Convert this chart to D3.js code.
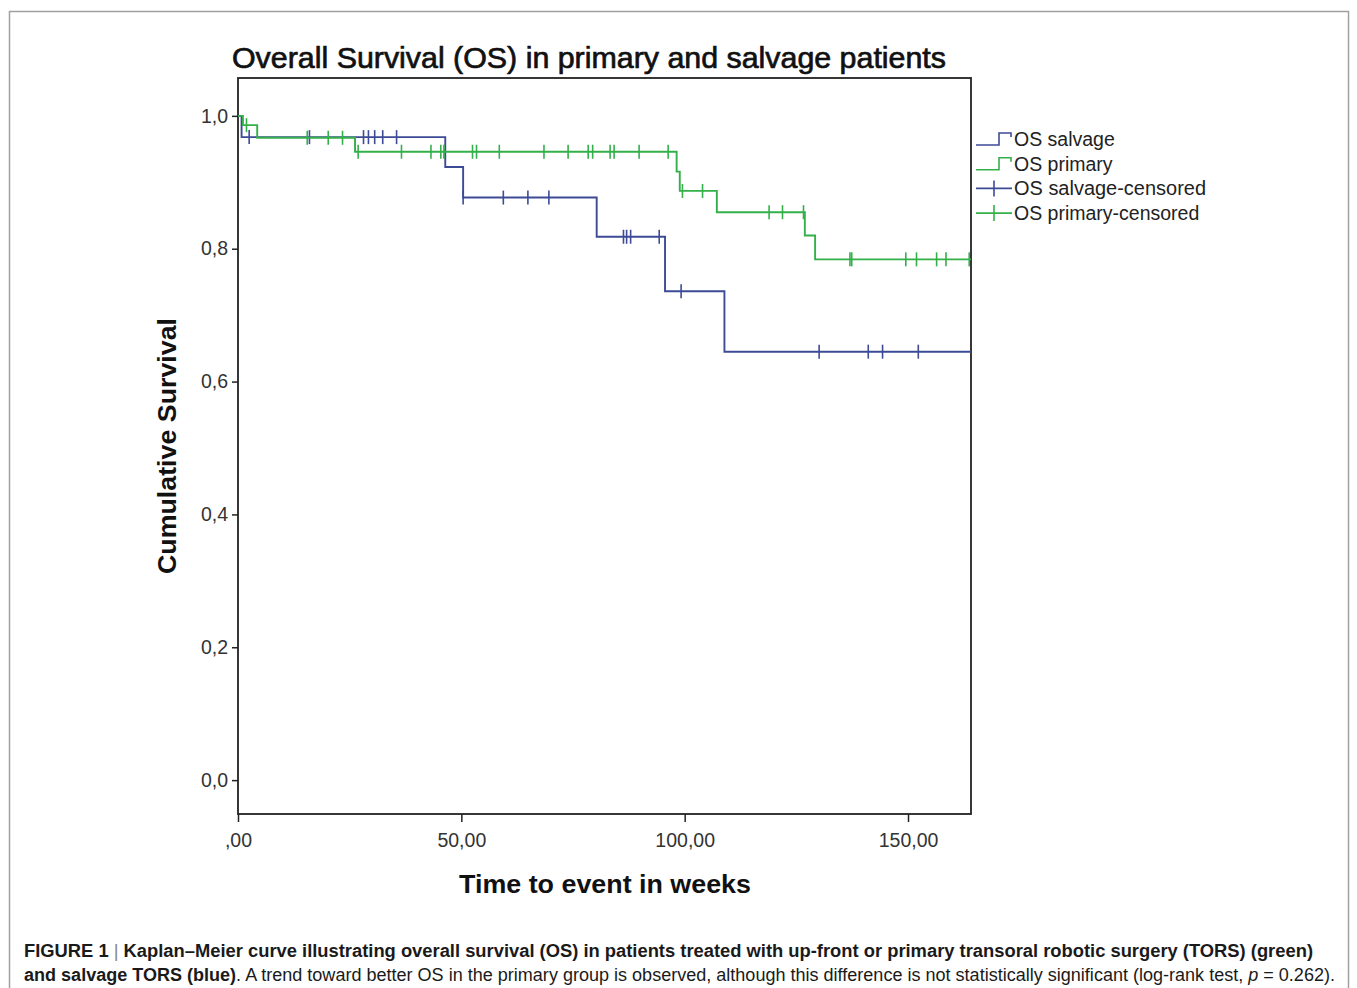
<!DOCTYPE html>
<html><head><meta charset="utf-8">
<script src="https://cdn.jsdelivr.net/npm/d3@7"></script>
<style>
html,body{margin:0;padding:0;background:#fff;}
svg{display:block;font-family:"Liberation Sans",Arial,sans-serif;}
</style></head>
<body>
<svg id="c" width="1357" height="988"></svg>
<script>
// ---- data ----
const salvageTimes = [0, 0.8, 46.4, 50.4, 80.3, 95.6, 108.9];
const salvageSurv  = [1.0, 0.968, 0.923, 0.877, 0.818, 0.736, 0.645];
const salvageCensor = [2.5, 16.0, 28.1, 29.2, 30.6, 32.4, 35.5, 50.4, 59.4, 64.9, 69.6, 86.3, 87.0, 87.9, 94.3, 99.2, 130.1, 141.1, 144.3, 152.3];

const primaryTimes = [0, 1.1, 4.3, 26.2, 98.2, 98.9, 107.2, 126.9, 129.2];
const primarySurv  = [1.0, 0.986, 0.967, 0.946, 0.916, 0.887, 0.855, 0.820, 0.784];
const primaryCensor = [1.9, 15.5, 20.2, 23.4, 26.9, 36.6, 43.2, 45.4, 46.1, 52.5, 53.4, 58.5, 68.5, 73.9, 78.4, 79.4, 83.3, 84.2, 89.8, 96.3, 99.5, 104.0, 118.9, 121.9, 126.6, 137.0, 137.4, 149.5, 151.9, 156.4, 158.5, 163.7];

const maxTime = 164.1;
const xTickValues = [0, 50, 100, 150];
const xTickLabels = [",00", "50,00", "100,00", "150,00"];
const yTickValues = [0, 0.2, 0.4, 0.6, 0.8, 1.0];
const yTickLabels = ["0,0", "0,2", "0,4", "0,6", "0,8", "1,0"];
const legendLabels = ["OS salvage", "OS primary", "OS salvage-censored", "OS primary-censored"];

const title = "Overall Survival (OS) in primary and salvage patients";
const xTitle = "Time to event in weeks";
const yTitle = "Cumulative Survival";

// ---- styling ----
const BLUE = "#3d4b96", GREEN = "#33b04a";
const svg = d3.select("#c");

// outer figure frame
svg.append("rect").attr("x", 9.5).attr("y", 11.5).attr("width", 1339).attr("height", 1000)
  .attr("fill", "none").attr("stroke", "#a0a0a0").attr("stroke-width", 1.5);

const L = 238, T = 78, R = 971, B = 814;
const x = d3.scaleLinear().domain([0, maxTime]).range([L, R]);
const y = d3.scaleLinear().domain([-0.051, 1.057]).range([B, T]);

// title
svg.append("text").attr("x", 232).attr("y", 68).attr("font-size", 30)
  .attr("textLength", 714).attr("lengthAdjust", "spacingAndGlyphs")
  .attr("fill", "#111").attr("stroke", "#111").attr("stroke-width", 0.7).text(title);

// axes
const yAxis = d3.axisLeft(y).tickValues(yTickValues).tickFormat((d, i) => yTickLabels[i]).tickSize(6).tickSizeOuter(0);
const gy = svg.append("g").attr("transform", `translate(${L},0)`).call(yAxis);
gy.select(".domain").remove();
gy.selectAll(".tick line").attr("stroke", "#222").attr("stroke-width", 1.5);
gy.selectAll(".tick text").attr("font-size", 19.5).attr("fill", "#333").attr("x", -10)
  .attr("font-family", "'Liberation Sans',Arial,sans-serif");

const xAxis = d3.axisBottom(x).tickValues(xTickValues).tickFormat((d, i) => xTickLabels[i]).tickSize(8).tickSizeOuter(0);
const gx = svg.append("g").attr("transform", `translate(0,${B})`).call(xAxis);
gx.select(".domain").remove();
gx.selectAll(".tick line").attr("stroke", "#222").attr("stroke-width", 1.5);
gx.selectAll(".tick text").attr("font-size", 19.5).attr("fill", "#333").attr("y", 19)
  .attr("font-family", "'Liberation Sans',Arial,sans-serif");

// plot box
svg.append("rect").attr("x", L).attr("y", T).attr("width", R - L).attr("height", B - T)
  .attr("fill", "none").attr("stroke", "#222").attr("stroke-width", 1.8);

// axis titles
svg.append("text").attr("x", 459).attr("y", 893)
  .attr("font-size", 26).attr("font-weight", "bold").attr("fill", "#111")
  .attr("textLength", 292).attr("lengthAdjust", "spacingAndGlyphs").text(xTitle);
svg.append("text").attr("transform", "translate(176,574) rotate(-90)")
  .attr("font-size", 26).attr("font-weight", "bold").attr("fill", "#111")
  .attr("textLength", 256).attr("lengthAdjust", "spacingAndGlyphs").text(yTitle);

// step curves
function stepPoints(times, surv) {
  const pts = times.map((t, i) => [t, surv[i]]);
  pts.push([maxTime, surv[surv.length - 1]]);
  return pts;
}
function survAt(times, surv, t) {
  let s = surv[0];
  for (let i = 0; i < times.length; i++) if (times[i] <= t) s = surv[i];
  return s;
}
const line = d3.line().x(d => x(d[0])).y(d => y(d[1])).curve(d3.curveStepAfter);
const series = [
  {times: salvageTimes, surv: salvageSurv, cens: salvageCensor, color: BLUE},
  {times: primaryTimes, surv: primarySurv, cens: primaryCensor, color: GREEN}
];
series.forEach(s => {
  svg.append("path").datum(stepPoints(s.times, s.surv)).attr("d", line)
    .attr("fill", "none").attr("stroke", s.color).attr("stroke-width", 1.9);
  svg.append("g").selectAll("line").data(s.cens).join("line")
    .attr("x1", d => x(d)).attr("x2", d => x(d))
    .attr("y1", d => y(survAt(s.times, s.surv, d)) - 7)
    .attr("y2", d => y(survAt(s.times, s.surv, d)) + 7)
    .attr("stroke", s.color).attr("stroke-width", 1.6);
});

// legend
const legendColors = [BLUE, GREEN, BLUE, GREEN];
const lg = svg.append("g");
legendLabels.forEach((lab, i) => {
  const cy = 139 + i * 24.7;
  if (i < 2) {
    lg.append("path").attr("d", `M976,${cy + 6} H999 V${cy - 6} H1011 V${cy - 2}`)
      .attr("fill", "none").attr("stroke", legendColors[i]).attr("stroke-width", 1.6);
  } else {
    lg.append("line").attr("x1", 976).attr("x2", 1012).attr("y1", cy).attr("y2", cy)
      .attr("stroke", legendColors[i]).attr("stroke-width", 1.6);
    lg.append("line").attr("x1", 994).attr("x2", 994).attr("y1", cy - 8).attr("y2", cy + 8)
      .attr("stroke", legendColors[i]).attr("stroke-width", 1.6);
  }
  lg.append("text").attr("x", 1014).attr("y", cy + 7).attr("font-size", 19.5).attr("fill", "#222")
    .attr("textLength", i === 2 ? 192 : null).attr("lengthAdjust", "spacingAndGlyphs").text(lab);
});

// caption
const cap1 = svg.append("text").attr("x", 24).attr("y", 957).attr("font-size", 17.5)
  .attr("font-family", "'Liberation Sans Narrow','Liberation Sans',Arial,sans-serif")
  .attr("textLength", 1289).attr("lengthAdjust", "spacingAndGlyphs").attr("fill", "#1a1a1a");
cap1.append("tspan").attr("font-weight", "bold").text("FIGURE 1 ");
cap1.append("tspan").attr("fill", "#888").text("|");
cap1.append("tspan").attr("font-weight", "bold").text(" Kaplan\u2013Meier curve illustrating overall survival (OS) in patients treated with up-front or primary transoral robotic surgery (TORS) (green)");

const cap2 = svg.append("text").attr("x", 24).attr("y", 981).attr("font-size", 17.5)
  .attr("font-family", "'Liberation Sans Narrow','Liberation Sans',Arial,sans-serif")
  .attr("textLength", 1311).attr("lengthAdjust", "spacingAndGlyphs").attr("fill", "#1a1a1a");
cap2.append("tspan").attr("font-weight", "bold").text("and salvage TORS (blue)");
cap2.append("tspan").text(". A trend toward better OS in the primary group is observed, although this difference is not statistically significant (log-rank test, ");
cap2.append("tspan").attr("font-style", "italic").text("p");
cap2.append("tspan").text(" = 0.262).");
</script>
</body></html>
